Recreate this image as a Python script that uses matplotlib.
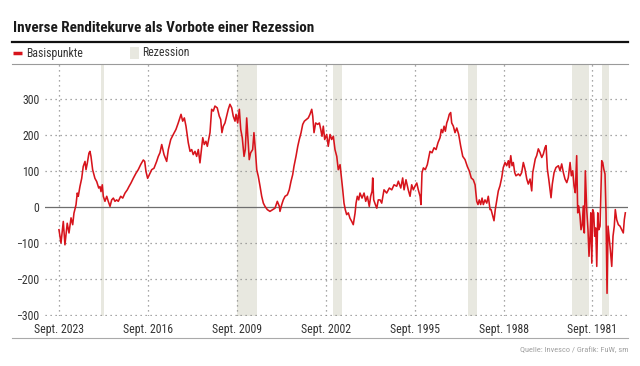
import matplotlib
matplotlib.use("Agg")
import matplotlib.pyplot as plt
from matplotlib import font_manager
from matplotlib.lines import Line2D
from matplotlib.patches import Rectangle

# Spread 10y minus 2y US treasury yields in basis points
# (decimal years, newest first)
dates = [
    2023.75, 2023.59, 2023.41, 2023.28, 2023.10, 2022.96, 2022.80, 2022.67, 2022.57, 2022.41,
    2022.31, 2022.23, 2022.10, 2021.96, 2021.84, 2021.70, 2021.62, 2021.52, 2021.39, 2021.31,
    2021.23, 2021.10, 2020.92, 2020.78, 2020.62, 2020.52, 2020.44, 2020.34, 2020.26, 2020.13,
    2019.99, 2019.87, 2019.73, 2019.60, 2019.47, 2019.34, 2019.21, 2019.08, 2018.89, 2018.73,
    2018.55, 2018.37, 2018.24, 2018.08, 2017.90, 2017.69, 2017.51, 2017.32, 2017.11, 2017.00,
    2016.90, 2016.77, 2016.64, 2016.45, 2016.27, 2016.06, 2015.93,
    2015.80, 2015.66, 2015.48, 2015.27, 2015.14, 2014.95, 2014.75, 2014.54, 2014.36, 2014.14,
    2014.01, 2013.88, 2013.75, 2013.57, 2013.43, 2013.30, 2013.18, 2013.04, 2012.91, 2012.78,
    2012.65, 2012.43, 2012.31, 2012.18, 2012.07, 2011.86, 2011.73, 2011.60, 2011.47, 2011.29,
    2011.13, 2011.02, 2010.92, 2010.81, 2010.68, 2010.55, 2010.42, 2010.29, 2010.15, 2010.03,
    2009.89, 2009.81, 2009.68, 2009.55, 2009.44, 2009.32, 2009.18, 2009.08, 2008.97, 2008.87,
    2008.77, 2008.66, 2008.50, 2008.40, 2008.29, 2008.18, 2008.06, 2007.92, 2007.79, 2007.66,
    2007.53, 2007.35, 2007.14, 2006.92, 2006.74, 2006.56, 2006.40,
    2006.35, 2006.21, 2006.09, 2005.95, 2005.77, 2005.62, 2005.48, 2005.35, 2005.25, 2005.09,
    2004.95, 2004.83, 2004.69, 2004.56, 2004.43, 2004.25, 2004.12, 2003.99, 2003.85, 2003.77,
    2003.67, 2003.54, 2003.38, 2003.25, 2003.14, 2003.04, 2002.94, 2002.83, 2002.67, 2002.55,
    2002.41, 2002.28, 2002.15, 2002.02, 2001.88, 2001.76, 2001.62, 2001.55, 2001.41, 2001.31,
    2001.21, 2001.10, 2000.97, 2000.84, 2000.70, 2000.58, 2000.44, 2000.36, 2000.26, 2000.15,
    2000.05, 1999.89, 1999.73, 1999.60, 1999.47, 1999.32, 1999.21, 1999.10, 1999.05, 1998.97,
    1998.84, 1998.73, 1998.61,
    1998.47, 1998.34, 1998.16, 1997.95, 1997.74, 1997.55, 1997.37, 1997.16, 1997.03, 1996.84,
    1996.69, 1996.58, 1996.43, 1996.25, 1996.11, 1995.98, 1995.85, 1995.72, 1995.58, 1995.46,
    1995.32, 1995.25, 1995.17, 1995.06, 1994.91, 1994.75, 1994.54, 1994.38, 1994.22, 1994.06,
    1993.91, 1993.75, 1993.65, 1993.54, 1993.43, 1993.33, 1993.22, 1993.12, 1993.02, 1992.91,
    1992.83, 1992.70, 1992.57, 1992.43, 1992.28, 1992.12, 1991.96, 1991.78, 1991.60, 1991.44,
    1991.29, 1991.13, 1990.99, 1990.86, 1990.76, 1990.66, 1990.55, 1990.44, 1990.34, 1990.21,
    1990.07, 1989.95, 1989.81,
    1989.73, 1989.60, 1989.50, 1989.40, 1989.29, 1989.16, 1989.03, 1988.89, 1988.77, 1988.63,
    1988.50, 1988.37, 1988.29, 1988.18, 1988.08, 1987.98, 1987.87, 1987.77, 1987.58, 1987.45,
    1987.32, 1987.19, 1987.06, 1986.92, 1986.80, 1986.66, 1986.53, 1986.45, 1986.35, 1986.25,
    1986.14, 1986.01, 1985.88, 1985.74, 1985.62, 1985.48, 1985.40, 1985.30, 1985.19, 1985.09,
    1985.01, 1984.91, 1984.77, 1984.62, 1984.43, 1984.30, 1984.17, 1984.04, 1983.91, 1983.77,
    1983.65, 1983.51, 1983.41, 1983.30, 1983.20, 1983.10, 1982.99, 1982.91, 1982.83, 1982.73,
    1982.65, 1982.55, 1982.47, 1982.39, 1982.31, 1982.20, 1982.10, 1982.02, 1981.94, 1981.88,
    1981.80, 1981.73, 1981.65, 1981.57, 1981.49, 1981.41, 1981.33, 1981.25, 1981.15, 1981.02,
    1980.94, 1980.86, 1980.76, 1980.68, 1980.60, 1980.52, 1980.44, 1980.34, 1980.23, 1980.13,
    1980.03, 1979.95, 1979.84, 1979.71, 1979.58, 1979.44, 1979.32, 1979.24, 1979.16,
]
bp = [
    -63, -100, -40, -105, -45, -72, -30, -49, -17, 6,
    39, 30, 57, 80, 113, 127, 104, 122, 150, 155,
    141, 104, 80, 71, 53, 57, 43, 62, 30, 16,
    30, 16, 2, 20, 25, 16, 20, 16, 30, 25,
    39, 48, 57, 67, 80, 94, 104, 118, 131, 127,
    99, 80, 90, 104, 108, 127, 141,
    151, 174, 146, 127, 160, 188, 202, 216, 234, 258,
    239, 248, 225, 179, 155, 160, 146, 155, 141, 160,
    123, 193, 174, 183, 169, 207, 272, 267, 281, 276,
    253, 244, 207, 225, 234, 253, 272, 286, 276, 253,
    239, 258, 234, 272, 216, 193, 141, 160, 248, 188,
    132, 151, 160, 207, 160, 104, 86, 58, 30, 11,
    2, -7, -12, -7, -3, 16, 2,
    -12, 7, 20, 30, 34, 48, 72, 90, 113, 141,
    169, 188, 207, 230, 239, 244, 248, 258, 272, 253,
    207, 234, 230, 234, 216, 197, 225, 188, 202, 169,
    202, 188, 197, 160, 141, 104, 118, 95, 48, 11,
    -7, -21, -16, -31, -40, -49, -17, 11, 30, 20,
    39, 25, 39, 16, 30, 2, 30, 44, 81, 20,
    7, -3, 20,
    20, 11, 48, 39, 53, 48, 62, 58, 72, 53,
    81, 48, 76, 48, 30, 62, 48, 58, 67, 48,
    30, 7, 95, 109, 104, 118, 155, 151, 165, 160,
    179, 193, 216, 207, 225, 211, 234, 244, 258, 263,
    234, 225, 207, 220, 202, 169, 141, 132, 113, 100,
    81, 76, 62, 16, 7, 20, 7, 25, 7, 20,
    11, 30, -7,
    -7, -25, -38, -7, 17, 45, 59, 82, 110, 124,
    115, 129, 110, 143, 115, 124, 96, 87, 92, 87,
    96, 124, 106, 78, 64, 78, 45, 96, 115, 134,
    143, 162, 152, 138, 147, 166, 171, 106, 78, 50,
    26, 64, 96, 110, 115, 101, 120, 96, 78, 68,
    82, 124, 87, 101, 59, 40, 143, -16, 3, -25,
    -63, -49, 3, -72, 101, -7, -63, -137, -81, -16,
    -156, -7, -16, -81, -58, -165, -16, -63, -53, 129,
    124, 106, 92, -16, -240, -53, -81, -119, -165, -81,
    -53, -7, -35, -49, -53, -63, -72, -35, -16,
]
assert len(dates) == len(bp)

# US recessions (as placed in the chart)
rec_start = [2020.21, 2008.16, 2001.44, 1990.86, 1981.99, 1980.44]
rec_end = [2020.47, 2009.73, 2002.20, 1991.57, 1983.33, 1980.99]

tick_years = [2023.75, 2016.75, 2009.75, 2002.75, 1995.75, 1988.75, 1981.75]
tick_labels = ["Sept. 2023", "Sept. 2016", "Sept. 2009", "Sept. 2002",
               "Sept. 1995", "Sept. 1988", "Sept. 1981"]
y_ticks = [-300, -200, -100, 0, 100, 200, 300]

RED = "#d7141c"
REC = "#e8e8e0"

available = {f.name for f in font_manager.fontManager.ttflist}
narrow = next((n for n in ["Liberation Sans Narrow", "Roboto Condensed", "Open Sans Condensed",
                           "Roboto", "DejaVu Sans"] if n in available), "DejaVu Sans")
plt.rcParams["font.family"] = [narrow, "DejaVu Sans"]

W, H = 640, 366
fig = plt.figure(figsize=(W / 100, H / 100), dpi=100)


def fx(px):
    return px / W


def fy(py):
    return 1 - py / H


ax = fig.add_axes([fx(45), fy(316), fx(628) - fx(45), fy(64) - fy(316)])
ax.set_xlim(2024.85, 1978.95)
ax.set_ylim(-303, 398)

for s, e in zip(rec_start, rec_end):
    ax.axvspan(s, e, color=REC, lw=0, zorder=0)

for y in y_ticks:
    if y == 0:
        ax.axhline(0, color="#6e6e6e", lw=0.9, zorder=1)
    else:
        ax.axhline(y, color="#8a8a8a", lw=0.9, ls=(0, (1, 3)), zorder=1)
for x in tick_years:
    ax.axvline(x, color="#8a8a8a", lw=0.9, ls=(0, (1, 3)), zorder=1)

ax.plot(dates, bp, color=RED, lw=1.15, zorder=3)

for s in ax.spines.values():
    s.set_visible(False)
ax.set_yticks(y_ticks)
ax.set_yticklabels([str(v).replace("-", "\u2212") for v in y_ticks])
ax.set_xticks(tick_years)
ax.set_xticklabels(tick_labels)
ax.tick_params(axis="both", length=0, labelsize=8.5, colors="#333333")
ax.tick_params(axis="y", pad=4)
ax.tick_params(axis="x", pad=5)

# title and frame lines
fig.text(fx(13), fy(28), "Inverse Renditekurve als Vorbote einer Rezession",
         fontsize=10.9, fontweight="bold", color="#1a1a1a", va="center", ha="left")
fig.add_artist(Line2D([fx(12), fx(628)], [fy(42), fy(42)], color="#111111", lw=1.6))
fig.add_artist(Line2D([fx(12), fx(628)], [fy(64), fy(64)], color="#9a9a9a", lw=0.8))
fig.add_artist(Line2D([fx(12), fx(628)], [fy(338), fy(338)], color="#aaaaaa", lw=0.8))

# legend
fig.add_artist(Line2D([fx(13), fx(22)], [fy(53), fy(53)], color=RED, lw=2.5,
                      solid_capstyle="butt"))
fig.text(fx(26), fy(53), "Basispunkte", fontsize=8.5, color="#333333", va="center")
fig.add_artist(Rectangle((fx(130), fy(59)), fx(139) - fx(130), fy(47) - fy(59),
                         transform=fig.transFigure, color=REC, lw=0))
fig.text(fx(142), fy(53), "Rezession", fontsize=8.5, color="#333333", va="center")

fig.text(fx(628), fy(350), "Quelle: Invesco / Grafik: FuW, sm", fontsize=6,
         color="#a0a0a0", ha="right", va="center")

fig.savefig("out.png", dpi=100)
